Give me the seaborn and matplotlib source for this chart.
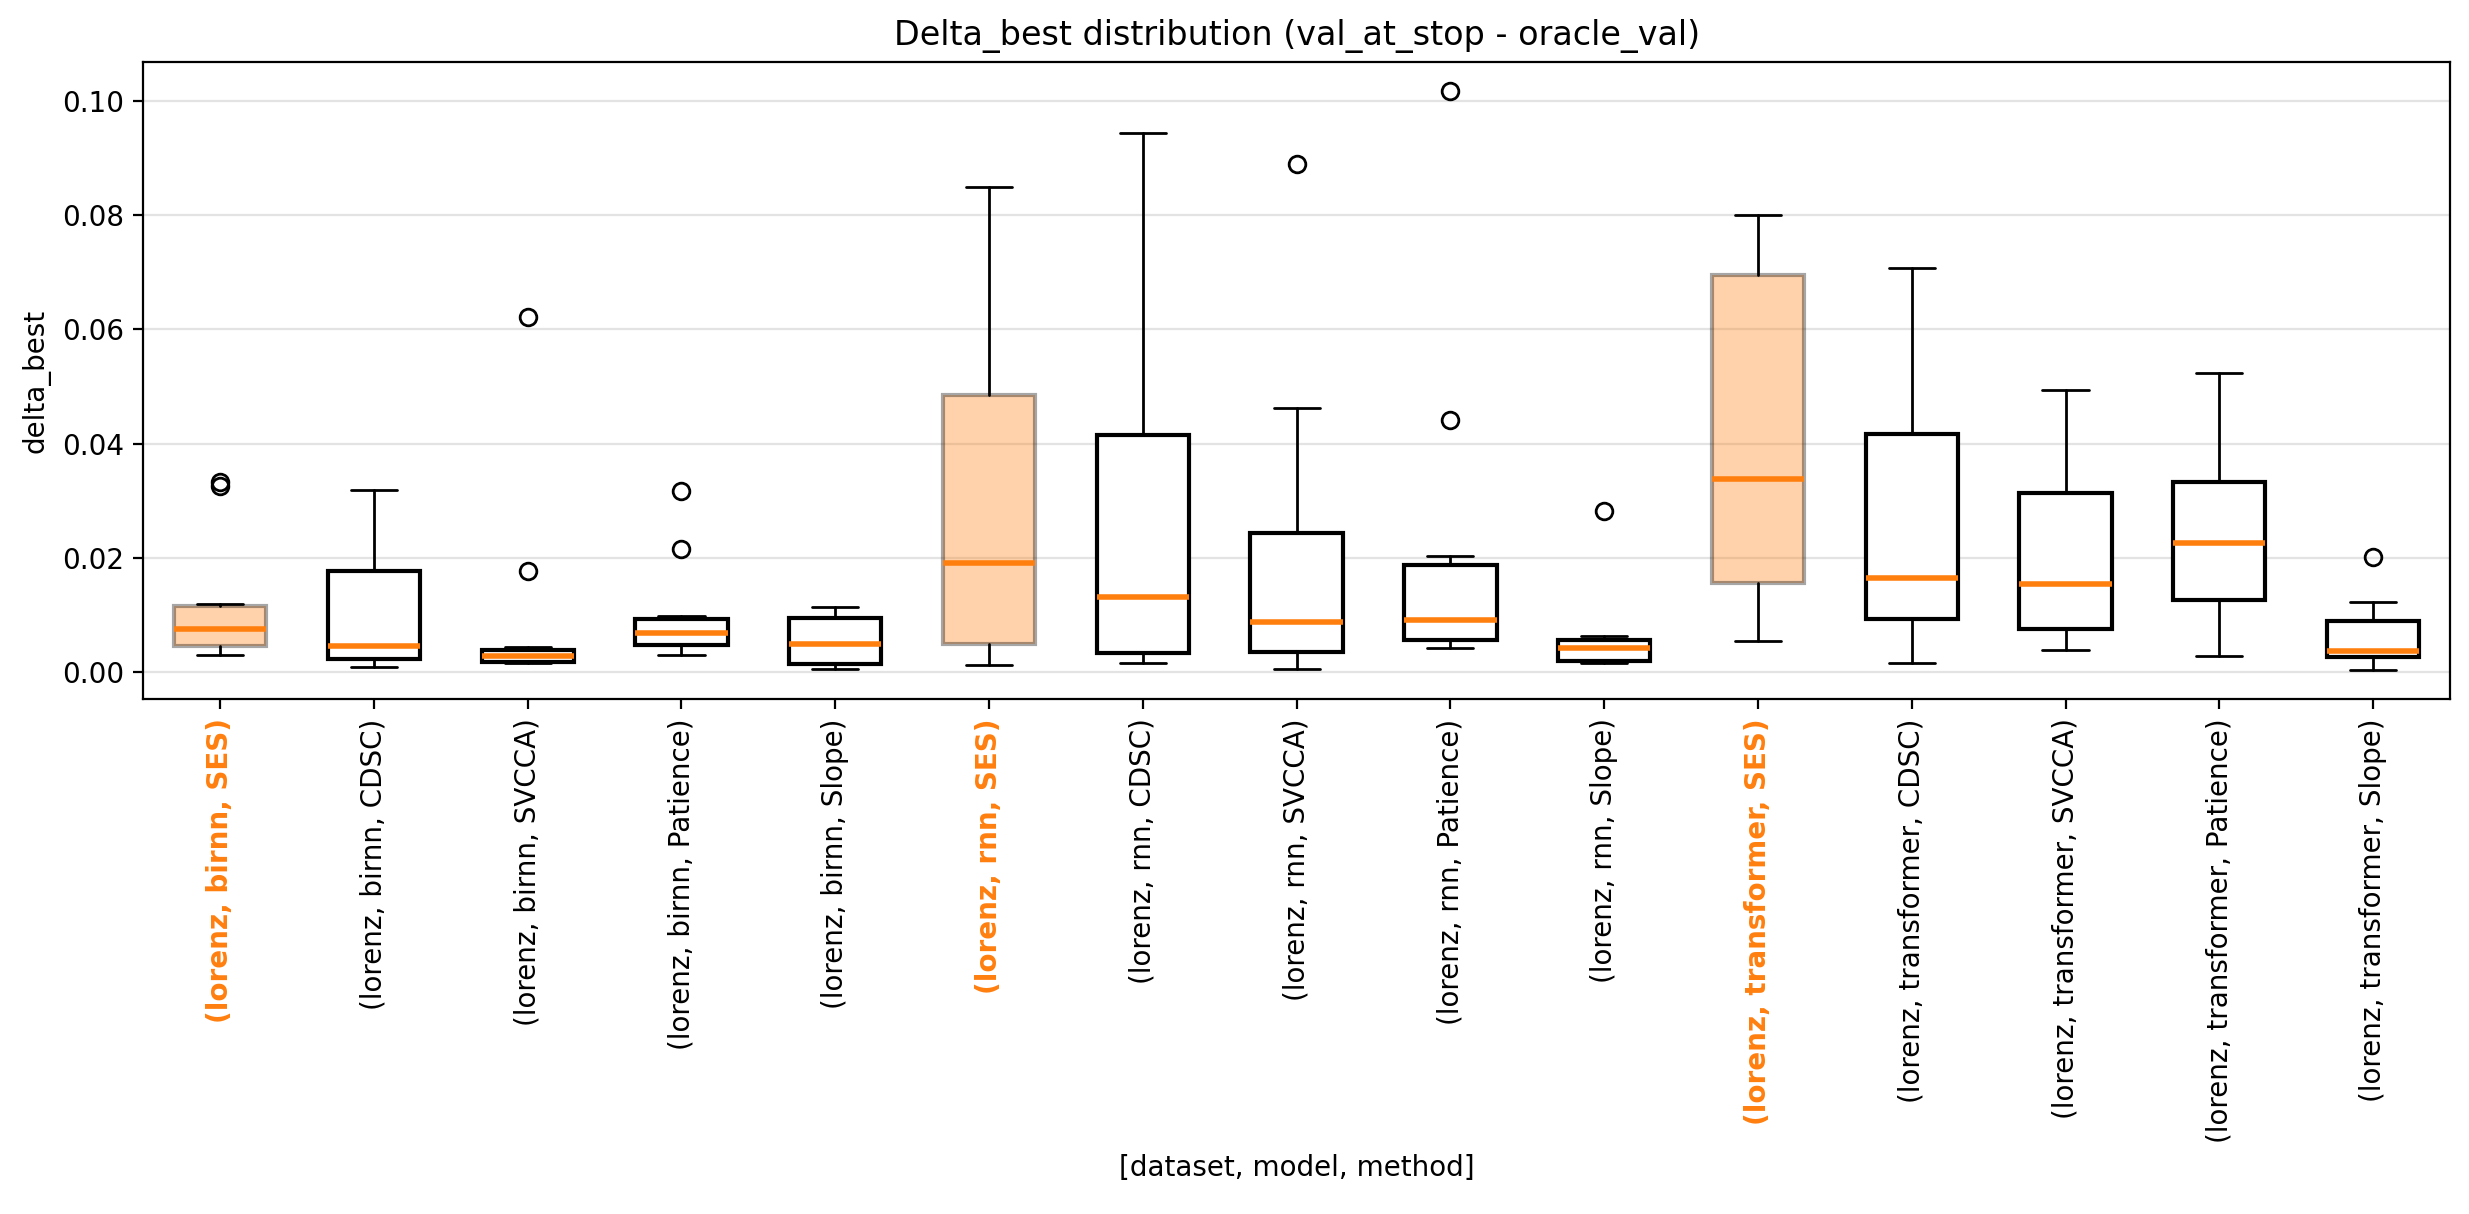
import matplotlib
matplotlib.use("Agg")
import matplotlib.pyplot as plt
import seaborn as sns

# groups: (dataset, model, method)
dataset = "lorenz"
models = ["birnn", "rnn", "transformer"]
methods = ["SES", "CDSC", "SVCCA", "Patience", "Slope"]
highlight = "SES"

# box stats, one entry per group (model-major order)
whislo = [0.0030, 0.0008, 0.0015, 0.0030, 0.0005,
          0.0011, 0.0015, 0.0004, 0.0042, 0.0015,
          0.0054, 0.0015, 0.0039, 0.0027, 0.0003]
q1 = [0.0046, 0.0023, 0.0017, 0.0047, 0.0014,
      0.0049, 0.0033, 0.0035, 0.0056, 0.0019,
      0.0155, 0.0093, 0.0075, 0.0126, 0.0026]
med = [0.0075, 0.0045, 0.0027, 0.0068, 0.0049,
       0.0191, 0.0131, 0.0088, 0.0090, 0.0042,
       0.0337, 0.0165, 0.0153, 0.0225, 0.0037]
q3 = [0.0115, 0.0176, 0.0039, 0.0093, 0.0095,
      0.0485, 0.0415, 0.0244, 0.0187, 0.0056,
      0.0696, 0.0417, 0.0314, 0.0332, 0.0089]
whishi = [0.0118, 0.0318, 0.0043, 0.0098, 0.0113,
          0.0850, 0.0945, 0.0462, 0.0203, 0.0063,
          0.0801, 0.0708, 0.0493, 0.0523, 0.0123]
fliers = [[0.0325, 0.0333], [], [0.0176, 0.0622], [0.0216, 0.0317], [],
          [], [], [0.0890], [0.0442, 0.1018], [0.0282],
          [], [], [], [], [0.0202]]

sns.set_style("ticks")
plt.rcParams["font.family"] = ["DejaVu Sans"]
plt.rcParams["axes.edgecolor"] = "black"
plt.rcParams["xtick.color"] = "black"
plt.rcParams["ytick.color"] = "black"
plt.rcParams["text.color"] = "black"
plt.rcParams["axes.labelcolor"] = "black"

orange = sns.color_palette("tab10")[1]

labels = []
groups = []
for m in models:
    for meth in methods:
        labels.append(f"({dataset}, {m}, {meth})")
        groups.append(meth)

stats = []
for i in range(len(labels)):
    stats.append(dict(label=labels[i], whislo=whislo[i], q1=q1[i], med=med[i],
                      q3=q3[i], whishi=whishi[i], fliers=fliers[i]))

fig, ax = plt.subplots(figsize=(12.345, 6.07), dpi=200)
fig.subplots_adjust(left=0.058, right=0.9923, top=0.949, bottom=0.4242)

bp = ax.bxp(stats, widths=0.6, patch_artist=True,
            boxprops=dict(facecolor="white", edgecolor="black", linewidth=1.5),
            whiskerprops=dict(color="black", linewidth=1.0),
            capprops=dict(color="black", linewidth=1.0),
            medianprops=dict(color=orange, linewidth=2.0),
            flierprops=dict(marker="o", markerfacecolor="none",
                            markeredgecolor="black", markersize=6))

for box, g in zip(bp["boxes"], groups):
    if g == highlight:
        box.set_facecolor(orange)
        box.set_alpha(0.35)

ax.set_axisbelow(True)
ax.yaxis.grid(True, color="#b0b0b0", alpha=0.35, linewidth=0.8)
ax.xaxis.grid(False)

ax.set_xticks(range(1, len(labels) + 1))
ax.set_xticklabels(labels, rotation=90)
for tl, g in zip(ax.get_xticklabels(), groups):
    if g == highlight:
        tl.set_color(orange)
        tl.set_fontweight("bold")

ax.set_title("Delta_best distribution (val_at_stop - oracle_val)", fontsize=12)
ax.set_xlabel("[dataset, model, method]")
ax.set_ylabel("delta_best")
ax.tick_params(labelsize=10)

fig.savefig("out.png", dpi=200)
